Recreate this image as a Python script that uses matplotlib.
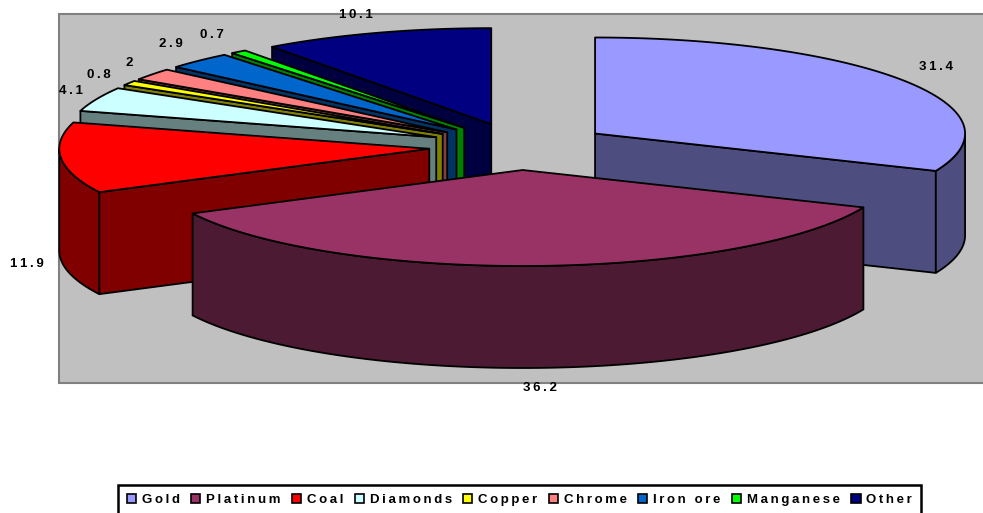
import numpy as np
import matplotlib
matplotlib.use("Agg")
import matplotlib.pyplot as plt
from matplotlib.patches import Polygon, Rectangle, Patch

plt.rcParams['font.family'] = ['Liberation Sans', 'DejaVu Sans']

# commodity shares, in the order they go round the pie
commodities = ['Gold', 'Platinum', 'Coal', 'Diamonds', 'Copper', 'Chrome', 'Iron ore', 'Manganese', 'Other']
shares = [31.4, 36.2, 11.9, 4.1, 0.8, 2, 2.9, 0.7, 10.1]
share_labels = ['31.4', '36.2', '11.9', '4.1', '0.8', '2', '2.9', '0.7', '10.1']
top_colors = ['#9999FF', '#993366', '#FF0000', '#CCFFFF', '#FFFF00', '#FF8080', '#0066CC', '#00FF00', '#000080']
side_colors = ['#4D4D80', '#4D1A33', '#800000', '#668080', '#808000', '#804040', '#003366', '#008000', '#000040']

# pie geometry, in figure pixels
CX, CY = 519.5, 146.5
RX, RY = 370, 96
DEPTH = 102
EXPLODE = 0.245
EDGE = 1.3

# where the value labels sit
label_xy = [(936, 67), (540, 388), (27, 264), (71, 91), (99, 75), (129, 63), (171, 44), (212, 35), (356, 15)]


def spaced(text):
    # the labels are set with wide tracking
    return '\u2009'.join(text)


def point(angle, apex):
    # angle is clockwise from 12 o'clock, in degrees
    a = np.radians(angle)
    return apex[0] + RX * np.sin(a), apex[1] - RY * np.cos(a)


def arc(start, end, apex):
    angles = np.linspace(start, end, max(2, int(abs(end - start) * 2)))
    x, y = point(angles, apex)
    return np.column_stack([x, y])


def wall(ax, p, q, color):
    # vertical quad hanging under the segment p-q
    pts = [p, q, (q[0], q[1] + DEPTH), (p[0], p[1] + DEPTH)]
    ax.add_patch(Polygon(pts, closed=True, fc=color, ec='black', lw=EDGE, joinstyle='round'))


def draw_slice(ax, start, end, top, side):
    mid = np.radians((start + end) / 2)
    apex = (CX + EXPLODE * RX * np.sin(mid), CY - EXPLODE * RY * np.cos(mid))

    # only the faces turned towards the viewer are drawn
    if 180 < start < 360:
        wall(ax, apex, point(start, apex), side)
    if 0 < end < 180:
        wall(ax, apex, point(end, apex), side)
    front_start, front_end = max(start, 90), min(end, 270)
    if front_start < front_end:
        edge = arc(front_start, front_end, apex)
        lower = edge[::-1] + [0, DEPTH]
        ax.add_patch(Polygon(np.vstack([edge, lower]), closed=True, fc=side, ec='black', lw=EDGE))

    outline = np.vstack([[apex], arc(start, end, apex)])
    ax.add_patch(Polygon(outline, closed=True, fc=top, ec='black', lw=EDGE, joinstyle='round'))


fig = plt.figure(figsize=(9.83, 5.13), dpi=100)
ax = fig.add_axes([0, 0, 1, 1])
ax.set_xlim(0, 983)
ax.set_ylim(513, 0)
ax.axis('off')

# plot area runs off the right side
ax.add_patch(Rectangle((59, 14), 930, 369, fc='#C0C0C0', ec='#808080', lw=1.5))

edges = np.cumsum([0] + shares) / sum(shares) * 360
# back slices first, so the nearer ones cover them
for i in [8, 7, 6, 5, 4, 3, 2, 0, 1]:
    draw_slice(ax, edges[i], edges[i + 1], top_colors[i], side_colors[i])

for text, (x, y) in zip(share_labels, label_xy):
    ax.text(x, y, spaced(text), ha='center', va='center', fontsize=9.5, fontweight='bold', color='black')

handles = [Patch(fc=c, ec='black', lw=1.2) for c in top_colors]
leg = ax.legend(handles, [spaced(c) for c in commodities],
                loc='upper left', bbox_to_anchor=(118, 485), bbox_transform=ax.transData,
                ncol=9, fontsize=9.5, frameon=True, fancybox=False, edgecolor='black', framealpha=1,
                handlelength=0.7, handleheight=0.7, handletextpad=0.45, columnspacing=0.85,
                borderpad=0.65, borderaxespad=0)
leg.get_frame().set_linewidth(1.8)
for t in leg.get_texts():
    t.set_fontweight('bold')

fig.savefig('out.png', dpi=100)
